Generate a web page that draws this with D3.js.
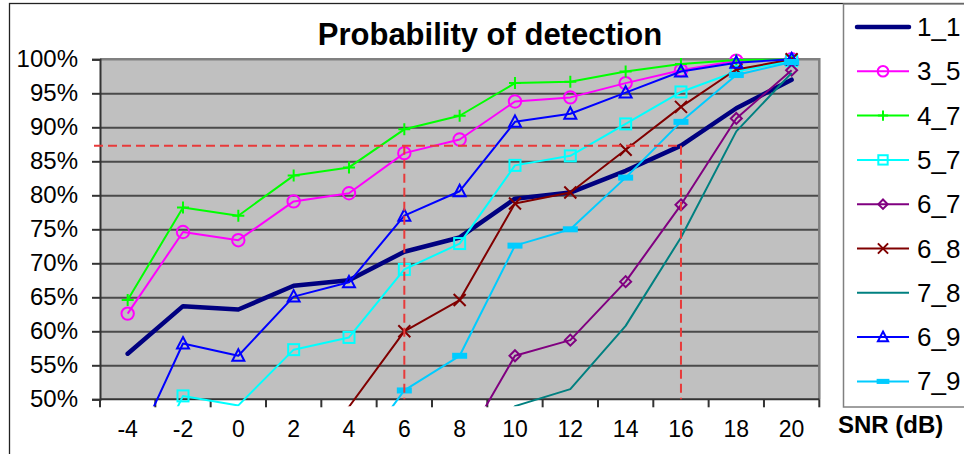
<!DOCTYPE html>
<html>
<head>
<meta charset="utf-8">
<script src="https://cdn.jsdelivr.net/npm/d3@7"></script>
<style>
  html, body { margin: 0; padding: 0; background: #fff; }
  svg { display: block; font-family: "Liberation Sans", Arial, sans-serif; }
</style>
</head>
<body>
<svg id="chart" width="964" height="454"></svg>
<script>
// SNR categories (dB)
const snr = [-4, -2, 0, 2, 4, 6, 8, 10, 12, 14, 16, 18, 20];
const yTicks = [50, 55, 60, 65, 70, 75, 80, 85, 90, 95, 100];

// Detection probability (%) per configuration; null = off the chart
const s1_1 = [56.7, 63.7, 63.2, 66.7, 67.5, 71.7, 73.8, 79.5, 80.4, 83.6, 87.3, 92.8, 97.0];
const s3_5 = [62.6, 74.6, 73.4, 79.1, 80.3, 86.2, 88.2, 93.8, 94.4, 96.5, 98.4, 99.8, 100];
const s4_7 = [64.6, 78.2, 77.0, 82.9, 84.1, 89.7, 91.7, 96.5, 96.7, 98.2, 99.3, 99.9, 100];
const s5_7 = [33.7, 50.5, 49.1, 57.3, 59.1, 69.1, 72.9, 84.4, 85.8, 90.5, 95.2, 98.2, 99.8];
const s6_7 = [null, null, null, null, null, null, 42.3, 56.4, 58.7, 67.3, 78.6, 91.3, 98.4];
const s6_8 = [null, null, null, 40.0, 48.9, 60.0, 64.6, 78.8, 80.4, 86.7, 93.0, 98.5, 100];
const s7_8 = [null, null, null, null, null, null, 40.0, 49.0, 51.5, 60.8, 73.8, 89.4, 98.0];
const s6_9 = [40.6, 58.2, 56.4, 65.1, 67.2, 77.0, 80.6, 90.8, 92.0, 95.1, 98.2, 99.5, 100];
const s7_9 = [null, null, null, null, 40.3, 51.3, 56.4, 72.6, 75.0, 82.6, 90.8, 97.7, 99.6];

const seriesNames = ["1_1", "3_5", "4_7", "5_7", "6_7", "6_8", "7_8", "6_9", "7_9"];
const seriesValues = [s1_1, s3_5, s4_7, s5_7, s6_7, s6_8, s7_8, s6_9, s7_9];
const seriesColors = ["#000080", "#ff00ff", "#00ff00", "#00ffff", "#800080", "#800000", "#008080", "#0000ff", "#00ccff"];
const seriesMarkers = ["none", "circle", "plus", "square", "diamond", "cross", "none", "triangle", "bar"];

// Reference: level reached by 1_1 at 16 dB, compared against 6 dB
const refSeries = s1_1;
const refAt = 16;
const compareAt = 6;

const svg = d3.select("#chart");
const plot = { left: 100, right: 819.3, top: 59.3, bottom: 399.3 };

const x = d3.scaleBand().domain(snr).range([plot.left, plot.right]).padding(0);
const cx = d => x(d) + x.bandwidth() / 2;
const y = d3.scaleLinear().domain([50, 100]).range([plot.bottom, plot.top]);

// Outer chart frame
svg.append("rect")
  .attr("x", 9.5).attr("y", 3.5).attr("width", 1000).attr("height", 500)
  .attr("fill", "#fff").attr("stroke", "#222").attr("stroke-width", 1.3);

// Plot background
svg.append("rect")
  .attr("x", plot.left).attr("y", plot.top)
  .attr("width", plot.right - plot.left).attr("height", plot.bottom - plot.top)
  .attr("fill", "#c0c0c0");

// Horizontal gridlines
svg.append("g")
  .attr("transform", `translate(${plot.left},0)`)
  .call(d3.axisLeft(y).tickValues(yTicks.slice(1, -1)).tickSize(-(plot.right - plot.left)).tickFormat(""))
  .call(g => g.select(".domain").remove())
  .call(g => g.selectAll("line").attr("stroke", "#4a4a4a").attr("stroke-width", 2));

// Top and right border of plot area
svg.append("path")
  .attr("d", `M${plot.left},${plot.top}H${plot.right}V${plot.bottom}`)
  .attr("fill", "none").attr("stroke", "#808080").attr("stroke-width", 2.5);

// Y axis
const yAxis = svg.append("g")
  .attr("transform", `translate(${plot.left},0)`)
  .call(d3.axisLeft(y).tickValues(yTicks).tickSize(8).tickPadding(14).tickFormat(d => d + "%"));
yAxis.select(".domain").attr("stroke", "#333").attr("stroke-width", 2);
yAxis.selectAll("line").attr("stroke", "#333").attr("stroke-width", 2);
yAxis.selectAll("text").attr("font-size", 24).attr("fill", "#000").attr("dy", "0.28em")
  .attr("font-family", "Liberation Sans, Arial, sans-serif");

// X axis: baseline, boundary ticks and centered labels
const xAxis = svg.append("g");
xAxis.append("line")
  .attr("x1", plot.left).attr("x2", plot.right).attr("y1", plot.bottom).attr("y2", plot.bottom)
  .attr("stroke", "#333").attr("stroke-width", 2);
const boundaries = snr.map(d => x(d)).concat([x(snr[snr.length - 1]) + x.bandwidth()]);
xAxis.selectAll("line.tick").data(boundaries).join("line")
  .attr("class", "tick")
  .attr("x1", d => d).attr("x2", d => d)
  .attr("y1", plot.bottom).attr("y2", plot.bottom + 8)
  .attr("stroke", "#333").attr("stroke-width", 2);
xAxis.selectAll("text").data(snr).join("text")
  .attr("x", d => cx(d)).attr("y", 437)
  .attr("text-anchor", "middle").attr("font-size", 23).attr("fill", "#000")
  .text(d => d);

svg.append("text")
  .attr("x", 838).attr("y", 433)
  .attr("font-size", 24).attr("font-weight", "bold").attr("fill", "#000")
  .text("SNR (dB)");

// Title
svg.append("text")
  .attr("x", 490).attr("y", 45)
  .attr("text-anchor", "middle").attr("font-size", 31).attr("font-weight", "bold").attr("fill", "#000")
  .text("Probability of detection");

// Clip for series lines (lets strokes run a few pixels past the axis)
svg.append("clipPath").attr("id", "plotClip")
  .append("rect").attr("x", plot.left).attr("y", plot.top - 10)
  .attr("width", plot.right - plot.left).attr("height", plot.bottom + 7 - (plot.top - 10));

const line = d3.line()
  .defined(d => d.v != null)
  .x(d => cx(d.x)).y(d => y(d.v));

function drawMarker(g, type, color, scale) {
  const k = scale || 1;
  const sw = 2;
  if (type === "circle") {
    g.append("circle").attr("r", 6.2 * k).attr("fill", "none").attr("stroke", color).attr("stroke-width", sw);
  } else if (type === "plus") {
    g.append("path").attr("d", `M${-6 * k},0H${6 * k}M0,${-6 * k}V${6 * k}`).attr("stroke", color).attr("stroke-width", sw);
  } else if (type === "square") {
    g.append("rect").attr("x", -5.5 * k).attr("y", -5.5 * k).attr("width", 11 * k).attr("height", 11 * k)
      .attr("fill", "none").attr("stroke", color).attr("stroke-width", sw);
  } else if (type === "diamond") {
    g.append("path").attr("d", `M0,${-5.5 * k}L${5.5 * k},0L0,${5.5 * k}L${-5.5 * k},0Z`)
      .attr("fill", "none").attr("stroke", color).attr("stroke-width", sw);
  } else if (type === "cross") {
    g.append("path").attr("d", `M${-6 * k},${-6 * k}L${6 * k},${6 * k}M${-6 * k},${6 * k}L${6 * k},${-6 * k}`)
      .attr("stroke", color).attr("stroke-width", sw);
  } else if (type === "triangle") {
    g.append("path").attr("d", `M0,${-6.5 * k}L${6 * k},${5 * k}L${-6 * k},${5 * k}Z`)
      .attr("fill", "none").attr("stroke", color).attr("stroke-width", sw);
  } else if (type === "bar") {
    g.append("rect").attr("x", -7.5 * k).attr("y", -3 * k).attr("width", 15 * k).attr("height", 6 * k)
      .attr("fill", color);
  }
}

const seriesLayer = svg.append("g");
seriesNames.forEach((name, i) => {
  const pts = snr.map((s, j) => ({ x: s, v: seriesValues[i][j] }));
  const g = seriesLayer.append("g").attr("class", "series s" + name);
  g.append("path")
    .attr("clip-path", "url(#plotClip)")
    .attr("d", line(pts))
    .attr("fill", "none")
    .attr("stroke", seriesColors[i])
    .attr("stroke-width", i === 0 ? 4.5 : 2)
    .attr("stroke-linejoin", "round")
    .attr("stroke-linecap", i === 0 ? "round" : "butt");
  if (seriesMarkers[i] !== "none") {
    pts.filter(d => d.v != null && d.v >= 50).forEach(d => {
      const m = g.append("g").attr("transform", `translate(${cx(d.x)},${y(d.v)})`);
      drawMarker(m, seriesMarkers[i], seriesColors[i]);
    });
  }
});

// Dashed reference lines
const refLevel = refSeries[snr.indexOf(refAt)];
const dash = svg.append("g").attr("stroke", "#e83a3a").attr("stroke-width", 2).attr("stroke-dasharray", "9,5").attr("fill", "none");
dash.append("line")
  .attr("x1", plot.left - 6).attr("x2", cx(refAt))
  .attr("y1", y(refLevel)).attr("y2", y(refLevel));
[compareAt, refAt].forEach(s => {
  dash.append("line")
    .attr("x1", cx(s)).attr("x2", cx(s))
    .attr("y1", y(refLevel)).attr("y2", plot.bottom);
});

// Legend
const legend = svg.append("g");
legend.append("rect")
  .attr("x", 843.5).attr("y", 4).attr("width", 200).attr("height", 403)
  .attr("fill", "#fff").attr("stroke", "#808080").attr("stroke-width", 1.5);
seriesNames.forEach((name, i) => {
  const ly = 27 + i * 44.3;
  const row = legend.append("g");
  row.append("line")
    .attr("x1", 857).attr("x2", 909).attr("y1", ly).attr("y2", ly)
    .attr("stroke", seriesColors[i]).attr("stroke-width", i === 0 ? 4.5 : 2)
    .attr("stroke-linecap", i === 0 ? "round" : "butt");
  if (seriesMarkers[i] !== "none") {
    const m = row.append("g").attr("transform", `translate(883,${ly})`);
    drawMarker(m, seriesMarkers[i], seriesColors[i], 0.85);
  }
  row.append("text")
    .attr("x", 917).attr("y", ly + 9)
    .attr("font-size", 26).attr("fill", "#000")
    .text(name);
});
</script>
</body>
</html>
